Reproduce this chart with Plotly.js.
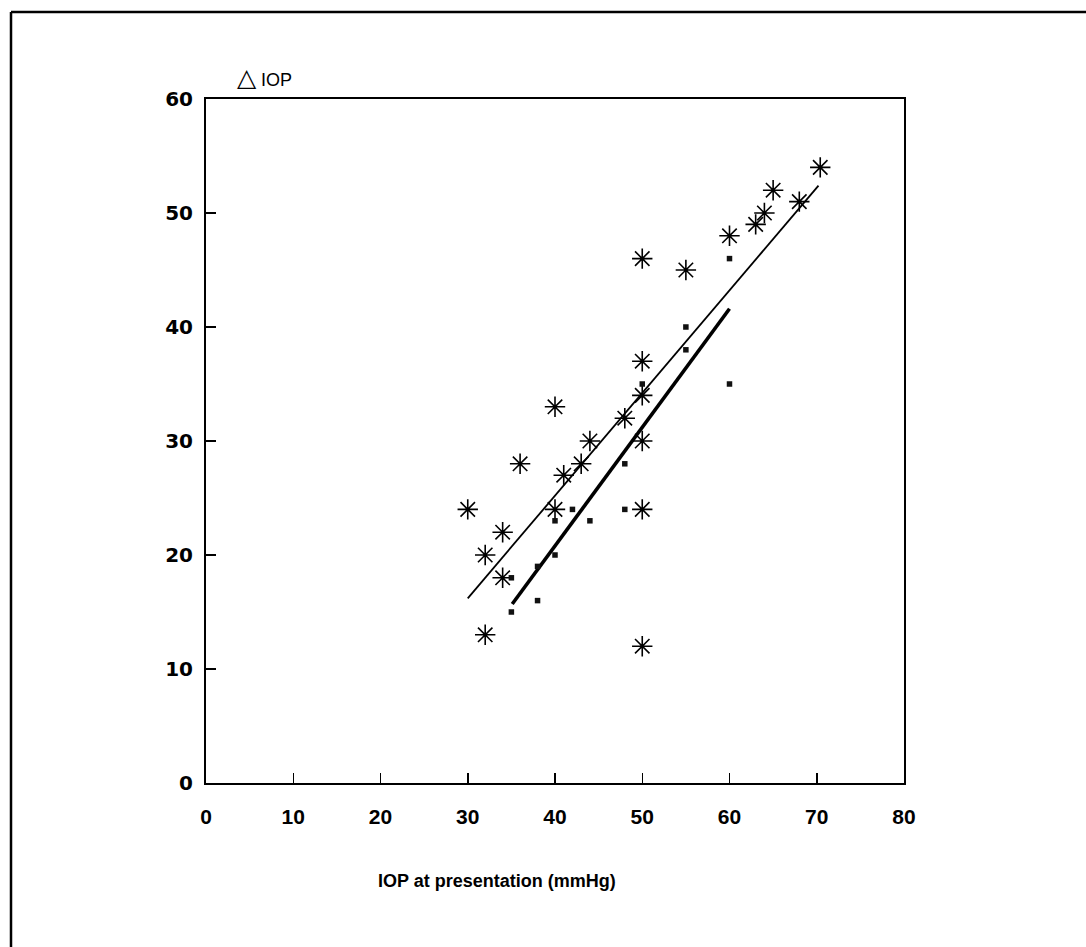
<!DOCTYPE html>
<html>
<head>
<meta charset="utf-8">
<script src="https://cdn.plot.ly/plotly-3.0.1.min.js"></script>
<style>html,body{margin:0;padding:0;background:#fff;}#chart{width:1086px;height:947px;}</style>
</head>
<body>
<div id="chart"></div>
<script>
// Asterisk series (IOP at presentation, ΔIOP)
var starX = [30, 32, 32, 34, 34, 36, 40, 40, 41, 43, 44, 48, 50, 50, 50, 50, 50, 50, 55, 60, 63, 64, 65, 68, 70.4];
var starY = [24, 20, 13, 22, 18, 28, 33, 24, 27, 28, 30, 32, 46, 37, 34, 30, 24, 12, 45, 48, 49, 50, 52, 51, 54];

// Small square series
var sqX = [35, 35, 38, 38, 40, 40, 42, 44, 48, 48, 50, 55, 55, 60, 60];
var sqY = [15, 18, 16, 19, 20, 23, 24, 23, 24, 28, 35, 38, 40, 35, 46];

// Regression lines (end points)
var thinLineX = [30, 70.2];
var thinLineY = [16.2, 52.4];
var thickLineX = [35.1, 60.0];
var thickLineY = [15.7, 41.6];

// Axis ticks
var xTicks = [0, 10, 20, 30, 40, 50, 60, 70, 80];
var yTicks = [0, 10, 20, 30, 40, 50, 60];

var xTitle = "IOP at presentation (mmHg)";
var yTitle = "<span style='font-size:25px'>\u25B3</span> IOP";

var traces = [
  {x: thinLineX, y: thinLineY, mode: 'lines', line: {color: '#000', width: 1.8}, hoverinfo: 'skip', showlegend: false},
  {x: thickLineX, y: thickLineY, mode: 'lines', line: {color: '#000', width: 3.6}, hoverinfo: 'skip', showlegend: false},
  {x: starX, y: starY, mode: 'markers', marker: {symbol: 'asterisk-open', size: 17, color: '#000', line: {color: '#000', width: 1.6}}, showlegend: false},
  {x: sqX, y: sqY, mode: 'markers', marker: {symbol: 'square', size: 5.5, color: '#111'}, showlegend: false}
];

var L = 206, R = 904, T = 99, B = 783, W = 1086, H = 947;
var pw = R - L, ph = B - T;
function px2x(p) { return (p - L) / pw; }
function py2y(p) { return (B - p) / ph; }

var layout = {
  width: W, height: H,
  margin: {l: L, r: W - R, t: T, b: H - B, pad: 0},
  paper_bgcolor: '#fff', plot_bgcolor: '#fff',
  showlegend: false,
  xaxis: {
    range: [0, 80], tickvals: xTicks, ticktext: xTicks.map(String),
    showgrid: false, zeroline: false, showline: true, mirror: true,
    linecolor: '#000', linewidth: 2,
    ticks: 'inside', ticklen: 10, tickwidth: 1.5, tickcolor: '#000',
    ticklabelstandoff: 14,
    tickfont: {family: 'Liberation Sans Narrow, Liberation Sans, Arial', size: 21, weight: 'bold', color: '#000'}
  },
  yaxis: {
    range: [0, 60], tickvals: yTicks, ticktext: yTicks.map(String),
    showgrid: false, zeroline: false, showline: true, mirror: true,
    linecolor: '#000', linewidth: 2,
    ticks: 'inside', ticklen: 10, tickwidth: 1.5, tickcolor: '#000',
    ticklabelstandoff: 7,
    tickfont: {family: 'DejaVu Sans, Verdana', size: 20, weight: 'bold', color: '#000'}
  },
  annotations: [
    {xref: 'paper', yref: 'paper', x: px2x(497), y: py2y(881), text: xTitle, showarrow: false,
     xanchor: 'center', yanchor: 'middle',
     font: {family: 'Liberation Sans Narrow, Liberation Sans, Arial', size: 18, weight: 'bold', color: '#000'}},
    {xref: 'paper', yref: 'paper', x: px2x(235), y: py2y(77), text: yTitle, showarrow: false,
     xanchor: 'left', yanchor: 'middle',
     font: {family: 'Liberation Sans, Arial', size: 18, color: '#000'}}
  ],
  shapes: [
    {type: 'line', xref: 'paper', yref: 'paper', x0: px2x(11), x1: px2x(1090), y0: py2y(12), y1: py2y(12), line: {color: '#000', width: 2.5}},
    {type: 'line', xref: 'paper', yref: 'paper', x0: px2x(11), x1: px2x(11), y0: py2y(12), y1: py2y(950), line: {color: '#000', width: 2.5}}
  ]
};

Plotly.newPlot('chart', traces, layout, {displayModeBar: false, staticPlot: true});
</script>
</body>
</html>
